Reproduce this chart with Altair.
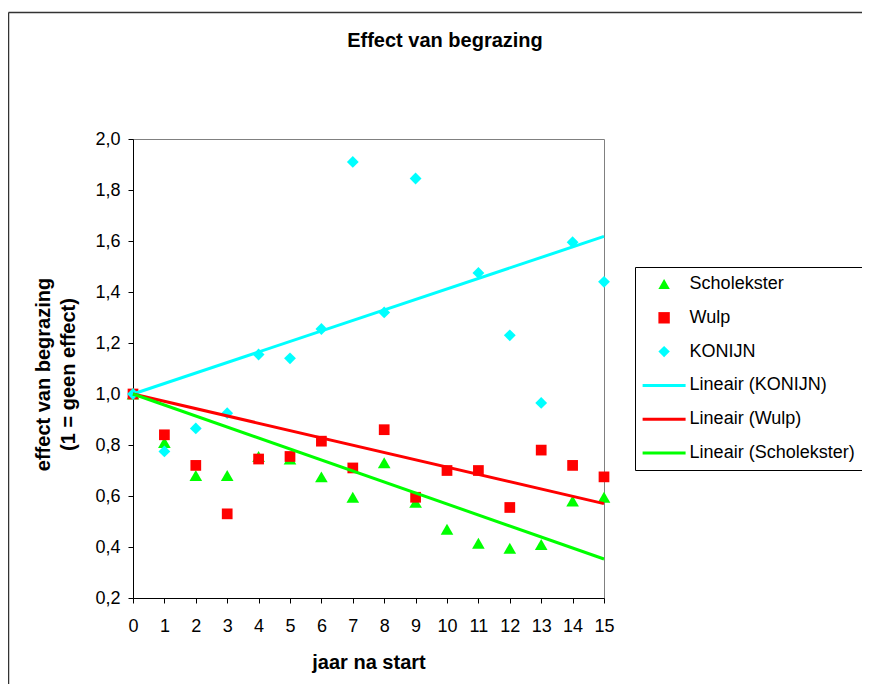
import altair as alt
import pandas as pd

# ---- data ----
jaar = list(range(16))
scholekster = [1.00, 0.81, 0.68, 0.68, 0.755, 0.745, 0.675, 0.595, 0.73, 0.575,
               0.47, 0.415, 0.395, 0.41, 0.58, 0.595]
wulp = [1.00, 0.84, 0.72, 0.53, 0.745, 0.755, 0.815, 0.71, 0.86, 0.595,
        0.70, 0.70, 0.555, 0.78, 0.72, 0.675]
konijn = [1.00, 0.775, 0.865, 0.925, 1.155, 1.14, 1.255, 1.91, 1.32, 1.845,
          None, 1.475, 1.23, 0.965, 1.595, 1.44]

trend_jaar = [0, 15]
trend_konijn = [1.0, 1.618]
trend_wulp = [1.0, 0.570]
trend_scholekster = [1.0, 0.353]

reeksen = ["Scholekster", "Wulp", "KONIJN"]
trendnamen = ["Lineair (KONIJN)", "Lineair (Wulp)", "Lineair (Scholekster)"]
groen, rood, cyaan = "#00FF00", "#FF0000", "#00FFFF"

y_ticks = [0.2, 0.4, 0.6, 0.8, 1.0, 1.2, 1.4, 1.6, 1.8, 2.0]

# ---- tables ----
rows = []
for naam, reeks in zip(reeksen, [scholekster, wulp, konijn]):
    for x, y in zip(jaar, reeks):
        if y is not None:
            rows.append({"jaar": x, "waarde": y, "reeks": naam})
punten = pd.DataFrame(rows)

trows = []
for naam, reeks in zip(trendnamen, [trend_konijn, trend_wulp, trend_scholekster]):
    for x, y in zip(trend_jaar, reeks):
        trows.append({"jaar": x, "waarde": y, "reeks": naam})
trends = pd.DataFrame(trows)

FONT = "Liberation Sans"
LIJN = "M-3.77,-0.26H3.77V0.26H-3.77Z"

legend_domain = reeksen + trendnamen
legend_colors = [groen, rood, cyaan, cyaan, rood, groen]
legend_shapes = ["triangle-up", "square", "diamond", LIJN, LIJN, LIJN]
marker_sizes = {"Scholekster": 160, "Wulp": 115, "KONIJN": 140}

x_scale = alt.Scale(domain=[0, 15], nice=False, zero=False)
y_scale = alt.Scale(domain=[0.2, 2.0], nice=False, zero=False)

x_axis = alt.Axis(
    values=jaar, format="d", title="jaar na start", tickCount=16,
    titleX=235.5, titleY=70, titleBaseline="alphabetic",
    labelBaseline="alphabetic", labelPadding=28, labelFlush=False,
    labelOverlap=False,
)
y_axis = alt.Axis(
    values=y_ticks,
    labelExpr="replace(format(datum.value, '.1f'), '.', ',')",
    title=["effect van begrazing", "(1 = geen effect)"],
    titleX=-90, titleY=235, titleBaseline="middle", titleAlign="center",
    titleAngle=270, titleLineHeight=25, labelPadding=8, labelOverlap=False,
)

legend = alt.Legend(
    title=None, orient="none", legendX=502, legendY=128, direction="vertical",
    strokeColor="black", fillColor="white", padding=8,
    labelFont=FONT, labelFontSize=18, labelColor="black", labelLimit=300,
    symbolSize=130, symbolOffset=12.1, labelOffset=16.5, rowPadding=15.8,
    symbolStrokeWidth=0, symbolOpacity=1,
)


def punt_laag(naam):
    return alt.Chart(punten).transform_filter(
        alt.datum.reeks == naam
    ).mark_point(filled=True, size=marker_sizes[naam], opacity=1).encode(
        x=alt.X("jaar:Q", scale=x_scale, axis=x_axis),
        y=alt.Y("waarde:Q", scale=y_scale, axis=y_axis),
        color=alt.Color("reeks:N", scale=alt.Scale(domain=legend_domain, range=legend_colors),
                        legend=legend),
        shape=alt.Shape("reeks:N", scale=alt.Scale(domain=legend_domain, range=legend_shapes),
                        legend=legend),
    )


lines = alt.Chart(trends).mark_line(strokeWidth=3).encode(
    x=alt.X("jaar:Q", scale=x_scale, axis=x_axis),
    y=alt.Y("waarde:Q", scale=y_scale, axis=y_axis),
    stroke=alt.Stroke("reeks:N", scale=alt.Scale(domain=trendnamen, range=[cyaan, rood, groen]),
                      legend=None),
)

frame_src = pd.DataFrame({"k": [0]})
frame_left = alt.Chart(frame_src).mark_rule(color="#333333", strokeWidth=1.5).encode(
    x=alt.value(-124.5), y=alt.value(-126.5), y2=alt.value(560)
)
frame_top = alt.Chart(frame_src).mark_rule(color="#333333", strokeWidth=1.5).encode(
    x=alt.value(-124.5), x2=alt.value(740), y=alt.value(-126.5)
)

chart = alt.layer(
    frame_left, frame_top,
    punt_laag("Scholekster"), punt_laag("Wulp"), punt_laag("KONIJN"),
    lines,
).properties(
    width=471, height=459,
    title=alt.TitleParams("Effect van begrazing", font=FONT, fontSize=20, fontWeight="bold",
                          anchor="middle", dx=76.5, offset=-55.5, baseline="alphabetic",
                          color="black"),
    autosize=alt.AutoSizeParams(type="none"),
    padding={"left": 125, "top": 131, "right": 258, "bottom": 86},
    background="white",
).configure_view(
    stroke="#808080", strokeWidth=1
).configure_axis(
    labelFont=FONT, labelFontSize=18, labelColor="black",
    titleFont=FONT, titleFontSize=20, titleFontWeight="bold", titleColor="black",
    domainColor="black", domainWidth=1, tickColor="black", tickWidth=1, tickSize=5,
    grid=False,
)

chart.save("out.html", embed_options={"renderer": "svg", "actions": False})
